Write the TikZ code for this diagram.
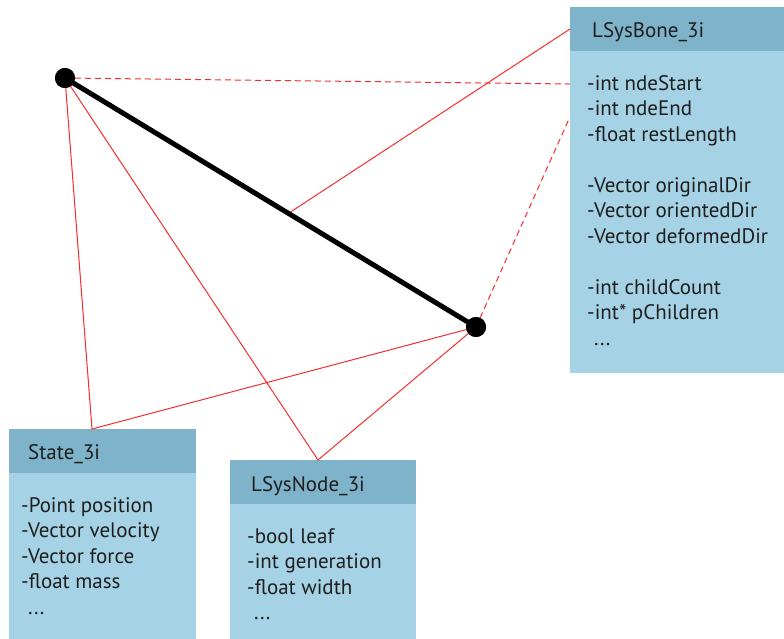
\documentclass[tikz,border=0pt]{standalone}
\usepackage{fontspec}
\setmainfont{PT Sans}
\usepackage{tikz}

\definecolor{hdrblue}{RGB}{127,179,201}
\definecolor{bodyblue}{RGB}{165,210,228}
\definecolor{linkred}{RGB}{245,45,45}
\definecolor{txtgray}{RGB}{30,30,30}

\tikzset{
  panel/.style={fill=bodyblue, anchor=north west, inner sep=0pt, outer sep=0pt},
  header/.style={fill=hdrblue, anchor=north west, inner sep=0pt, outer sep=0pt},
  title/.style={anchor=base west, inner sep=0pt, text=txtgray, font=\fontsize{21}{25.5}\selectfont},
  fields/.style={anchor=north west, inner sep=0pt, align=left, text=txtgray, font=\fontsize{21}{25.5}\selectfont},
  joint/.style={circle, fill=black, inner sep=0pt, minimum size=20pt},
  link/.style={linkred, line width=1pt},
  dashlink/.style={linkred, line width=1pt, dash pattern=on 6pt off 4pt}
}

\begin{document}
\begin{tikzpicture}[x=1pt, y=-1pt]
      \useasboundingbox (0,0) rectangle (784,639);
      % class boxes
      \node[panel, minimum width=214pt, minimum height=366pt] (boneB) at (570,7) {};
      \node[header, minimum width=214pt, minimum height=44pt] (boneH) at (570,7) {};
      \node[panel, minimum width=187pt, minimum height=210pt] (stateB) at (9,429) {};
      \node[header, minimum width=187pt, minimum height=44pt] (stateH) at (9,429) {};
      \node[panel, minimum width=186pt, minimum height=179pt] (nodeB) at (230,460) {};
      \node[header, minimum width=186pt, minimum height=44pt] (nodeH) at (230,460) {};
      % titles
      \node[title] (boneT) at (592,38) {LSysBone\_3i};
      \node[title] (stateT) at (28,459) {State\_3i};
      \node[title] (nodeT) at (251,491) {LSysNode\_3i};
      % members
      \node[fields] (boneF) at (587,75) {-int ndeStart\\-int ndeEnd\\-float restLength\\[25.5pt]
        -Vector originalDir\\-Vector orientedDir\\-Vector deformedDir\\[25.5pt]
        -int childCount\\-int* pChildren\\\hspace{7pt}...};
      \node[fields] (stateF) at (21,497) {-Point position\\-Vector velocity\\-Vector force\\-float mass\\\hspace{7pt}...};
      \node[fields] (nodeF) at (247,528) {-bool leaf\\-int generation\\-float width\\\hspace{7pt}...};
      % bone end points
      \node[joint] (A) at (65,78) {};
      \node[joint] (B) at (476,327) {};
      \coordinate (mid) at (289,213);
      \coordinate (stateTop) at (92,429);
      \coordinate (nodeTop) at (318,460);
      \coordinate (startEnd) at (570,84);
      \coordinate (endEnd) at (569,119);
      % links
      \draw[link] (A.center) -- (stateTop);
      \draw[link] (A.center) -- (nodeTop);
      \draw[link] (B.center) -- (stateTop);
      \draw[link] (B.center) -- (nodeTop);
      \draw[link] (mid) -- (boneH.west);
      \draw[dashlink] (A.center) -- (startEnd);
      \draw[dashlink] (B.center) -- (endEnd);
      \draw[line width=5pt] (A.center) -- (B.center);
      \node[joint] at (A) {};
      \node[joint] at (B) {};
    \end{tikzpicture}
\end{document}
